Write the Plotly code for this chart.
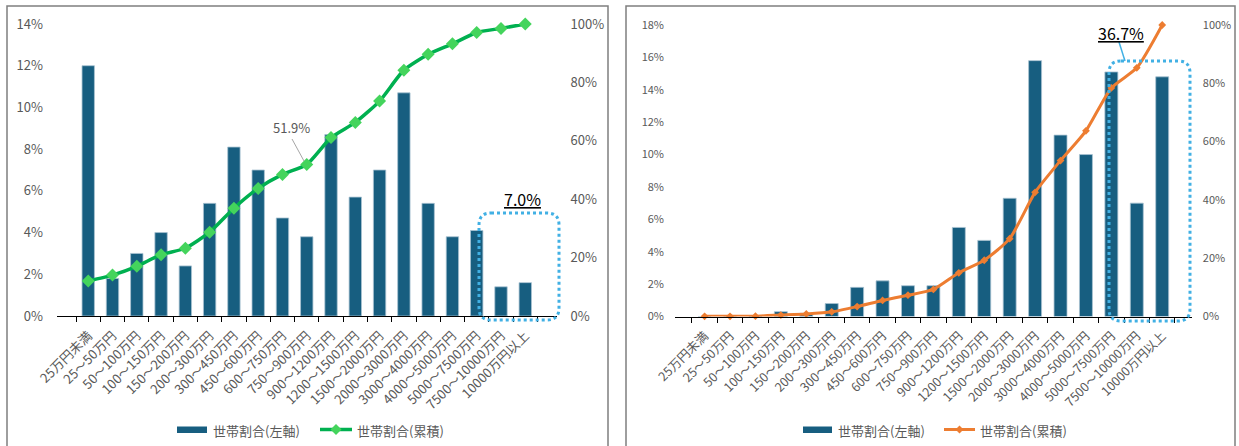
import plotly.graph_objects as go

W, H = 1239, 446

categories = ["25万円未満", "25～50万円", "50～100万円", "100～150万円", "150～200万円",
              "200～300万円", "300～450万円", "450～600万円", "600～750万円", "750～900万円",
              "900～1200万円", "1200～1500万円", "1500～2000万円", "2000～3000万円",
              "3000～4000万円", "4000～5000万円", "5000～7500万円", "7500～10000万円",
              "10000万円以上"]

left_share = [12.0, 1.8, 3.0, 4.0, 2.4, 5.4, 8.1, 7.0, 4.7, 3.8, 8.7, 5.7, 7.0, 10.7, 5.4, 3.8, 4.1, 1.4, 1.6]
left_cum = [12.0, 14.0, 17.0, 21.0, 23.2, 28.7, 36.9, 43.7, 48.5, 51.9, 61.1, 66.3, 73.6, 84.2, 89.6, 93.2, 97.1, 98.5, 100.0]

right_share = [0.0, 0.0, 0.05, 0.3, 0.2, 0.8, 1.8, 2.2, 1.9, 1.9, 5.5, 4.7, 7.3, 15.8, 11.2, 10.0, 15.1, 7.0, 14.8]
right_cum = [0.05, 0.05, 0.1, 0.5, 0.9, 1.6, 3.4, 5.5, 7.3, 9.3, 15.0, 19.3, 26.7, 42.6, 53.5, 63.7, 78.4, 85.3, 100.0]

left_ticks = [0, 2, 4, 6, 8, 10, 12, 14]
right_ticks = [0, 2, 4, 6, 8, 10, 12, 14, 16, 18]
cum_ticks = [0, 20, 40, 60, 80, 100]

name_bar = "世帯割合(左軸)"
name_line = "世帯割合(累積)"

FONT = "Noto Sans CJK JP"
GRAY = "#595959"
BAR = "#175e80"
GREEN = "#00b050"
GREEN_M = "#44d45c"
ORANGE = "#ed7d31"
BLUE = "#41b0e4"


def px(x):
    return x / W


def py(y):
    return 1 - y / H


def pct(vals):
    return [f"{v}%" for v in vals]


fig = go.Figure()

fig.add_trace(go.Bar(x=categories, y=left_share, xaxis="x", yaxis="y",
                     marker=dict(color=BAR, line=dict(color="#a9c3d2", width=0.8)),
                     name=name_bar, showlegend=False))
fig.add_trace(go.Scatter(x=categories, y=left_cum, xaxis="x", yaxis="y2", mode="lines+markers",
                         line=dict(color=GREEN, width=3.5, shape="spline", smoothing=0.6),
                         marker=dict(symbol="diamond", size=10, color=GREEN_M, line=dict(width=0)),
                         cliponaxis=False, name=name_line, showlegend=False))
fig.add_trace(go.Bar(x=categories, y=right_share, xaxis="x2", yaxis="y3",
                     marker=dict(color=BAR, line=dict(color="#a9c3d2", width=0.8)),
                     name=name_bar, showlegend=False))
fig.add_trace(go.Scatter(x=categories, y=right_cum, xaxis="x2", yaxis="y4", mode="lines+markers",
                         line=dict(color=ORANGE, width=3, shape="spline", smoothing=0.6),
                         marker=dict(symbol="diamond", size=6, color=ORANGE, line=dict(width=0)),
                         cliponaxis=False, name=name_line, showlegend=False))

ydom1 = [py(316), py(24)]
ydom2 = [py(316.5), py(25)]

xcommon = dict(type="category", showline=True, linecolor="#000000", linewidth=1.3,
               ticks="outside", tickson="boundaries", ticklen=5, tickcolor="#000000", tickwidth=1.3,
               tickangle=-45, showgrid=False, zeroline=False, automargin=False,
               ticklabelstandoff=6)
ycommon = dict(showgrid=False, zeroline=False, showline=False, ticks="",
               tickmode="array", automargin=False)

fig.update_layout(
    width=W, height=H, margin=dict(l=0, r=0, t=0, b=0, autoexpand=False),
    paper_bgcolor="white", plot_bgcolor="white",
    font=dict(family=FONT, color=GRAY),
    bargap=0.49, showlegend=False,
    xaxis=dict(domain=[px(57), px(556.5)], anchor="y",
               tickfont=dict(size=13, color=GRAY, family=FONT), **xcommon),
    yaxis=dict(domain=ydom1, range=[0, 14], tickvals=left_ticks, ticktext=pct(left_ticks), anchor="x",
               tickfont=dict(size=13, color=GRAY, family=FONT), ticklabelstandoff=13, **ycommon),
    yaxis2=dict(domain=ydom1, range=[0, 100], tickvals=cum_ticks, ticktext=pct(cum_ticks),
                overlaying="y", side="right",
                anchor="x", tickfont=dict(size=13, color=GRAY, family=FONT), ticklabelstandoff=13,
                **ycommon),
    xaxis2=dict(domain=[px(675), px(1191.8)], anchor="y3",
                tickfont=dict(size=12.5, color=GRAY, family=FONT), **xcommon),
    yaxis3=dict(domain=ydom2, range=[0, 18], tickvals=right_ticks, ticktext=pct(right_ticks), anchor="x2",
                tickfont=dict(size=11, color=GRAY, family=FONT), ticklabelstandoff=10, **ycommon),
    yaxis4=dict(domain=ydom2, range=[0, 100], tickvals=cum_ticks, ticktext=pct(cum_ticks),
                overlaying="y3", side="right",
                anchor="x2", tickfont=dict(size=11, color=GRAY, family=FONT), ticklabelstandoff=10,
                **ycommon),
)


def rrect(x0, y0, x1, y1, r):
    return (f"M {px(x0 + r)},{py(y0)} L {px(x1 - r)},{py(y0)} Q {px(x1)},{py(y0)} {px(x1)},{py(y0 + r)} "
            f"L {px(x1)},{py(y1 - r)} Q {px(x1)},{py(y1)} {px(x1 - r)},{py(y1)} "
            f"L {px(x0 + r)},{py(y1)} Q {px(x0)},{py(y1)} {px(x0)},{py(y1 - r)} "
            f"L {px(x0)},{py(y0 + r)} Q {px(x0)},{py(y0)} {px(x0 + r)},{py(y0)} Z")


shapes = []
# panel borders
for (x0, x1) in [(7, 608), (626, 1235)]:
    shapes.append(dict(type="rect", xref="paper", yref="paper", x0=px(x0), x1=px(x1),
                       y0=py(460), y1=py(6), line=dict(color="#7f7f7f", width=1.5), layer="below"))
# dotted highlight boxes
shapes.append(dict(type="path", xref="paper", yref="paper", path=rrect(479, 213, 559, 320, 12),
                   line=dict(color=BLUE, width=3, dash="dot")))
shapes.append(dict(type="path", xref="paper", yref="paper", path=rrect(1109, 61, 1190, 321, 12),
                   line=dict(color=BLUE, width=3, dash="dot")))
# leader lines
shapes.append(dict(type="line", xref="paper", yref="paper", x0=px(292), y0=py(139), x1=px(304), y1=py(161),
                   line=dict(color="#a6a6a6", width=1)))
shapes.append(dict(type="line", xref="paper", yref="paper", x0=px(1119), y0=py(42), x1=px(1125), y1=py(61),
                   line=dict(color=BLUE, width=1.5)))


def note(text, x, y, size, color, xanchor="center"):
    return dict(text=text, x=px(x), y=py(y), xref="paper", yref="paper", showarrow=False,
                xanchor=xanchor, yanchor="middle", font=dict(size=size, color=color, family=FONT))


annotations = [
    note("51.9%", 291, 128, 13, GRAY),
    note("<u>7.0%</u>", 522, 199, 16, "#000000"),
    note("<u>36.7%</u>", 1121, 33, 16, "#000000"),
]

# legends (custom)
legends = [
    (177, 207, 211, 320, 352, 355, GREEN, GREEN_M, 9, 3.5),
    (803, 832, 836, 944, 975, 978, ORANGE, ORANGE, 6, 3),
]
for (bx0, bx1, bt, lx0, lx1, lt, lc, mc, ms, lw) in legends:
    shapes.append(dict(type="rect", xref="paper", yref="paper", x0=px(bx0), x1=px(bx1),
                       y0=py(433), y1=py(426.5), fillcolor=BAR, line=dict(width=0)))
    shapes.append(dict(type="line", xref="paper", yref="paper", x0=px(lx0), x1=px(lx1),
                       y0=py(429.5), y1=py(429.5), line=dict(color=lc, width=lw)))
    cx = (lx0 + lx1) / 2
    d = ms / 2 + 1
    shapes.append(dict(type="path", xref="paper", yref="paper",
                       path=f"M {px(cx)},{py(429.5 - d)} L {px(cx + d)},{py(429.5)} L {px(cx)},{py(429.5 + d)} L {px(cx - d)},{py(429.5)} Z",
                       fillcolor=mc, line=dict(width=0)))
    annotations.append(note(name_bar, bt, 430, 13, GRAY, xanchor="left"))
    annotations.append(note(name_line, lt, 430, 13, GRAY, xanchor="left"))

fig.update_layout(shapes=shapes, annotations=annotations)

fig.write_html("out.html")
